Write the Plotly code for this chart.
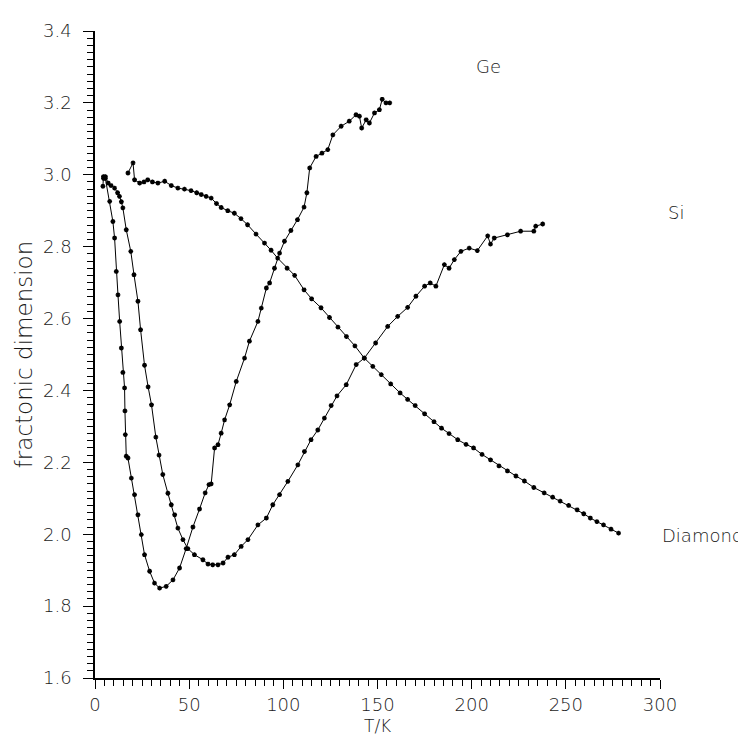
import plotly.graph_objects as go

# ---- data ----
ge_T = [4.2, 4.5, 5.5, 7.8, 9.5, 10.4, 11.3, 12.2, 13.1, 14.0, 14.8, 15.7, 15.9, 16.1, 16.6, 17.5,
        19.3, 21.0, 22.8, 24.6, 26.3, 29.0, 31.6, 34.3, 37.8, 41.4, 44.9, 48.4, 52.0, 55.5, 58.5,
        60.5, 61.7, 63.5, 65.3, 67.0, 68.8, 71.5, 75.0, 79.4, 82.0, 86.5, 88.3, 91.0, 92.7, 95.3,
        98.0, 100.6, 104.0, 107.5, 111.0, 112.5, 114.0, 117.4, 120.5, 123.6, 126.3, 130.7, 135.0,
        138.6, 140.4, 141.6, 144.0, 145.7, 148.4, 151.0, 152.5, 154.5, 156.5]
ge_v = [2.968, 2.995, 2.99, 2.926, 2.87, 2.824, 2.731, 2.666, 2.592, 2.518, 2.45, 2.407, 2.343, 2.277,
        2.217, 2.212, 2.156, 2.11, 2.054, 1.999, 1.943, 1.897, 1.864, 1.85, 1.855, 1.873, 1.906, 1.96,
        2.02, 2.07, 2.115, 2.138, 2.14, 2.24, 2.249, 2.281, 2.318, 2.36, 2.425, 2.49, 2.537, 2.592,
        2.629, 2.685, 2.699, 2.74, 2.782, 2.815, 2.845, 2.875, 2.91, 2.95, 3.019, 3.051, 3.06, 3.07,
        3.111, 3.135, 3.149, 3.167, 3.163, 3.13, 3.153, 3.144, 3.172, 3.181, 3.21, 3.20, 3.20]

si_T = [4.5, 5.5, 7.0, 8.5, 10.4, 12.0, 13.0, 14.0, 14.8, 16.6, 19.0, 20.7, 22.8, 24.2, 26.3, 28.2,
        30.0, 32.3, 34.0, 36.0, 38.7, 40.5, 42.3, 44.0, 46.7, 49.3, 52.8, 57.3, 60.0, 62.5, 65.3,
        68.0, 70.6, 74.0, 77.6, 81.2, 86.5, 91.0, 94.4, 98.0, 102.4, 107.7, 111.2, 114.7, 118.3,
        121.8, 125.4, 128.5, 133.4, 138.7, 143.0, 149.0, 155.4, 160.7, 166.0, 170.4, 175.0, 178.0,
        181.0, 185.5, 188.0, 190.8, 194.3, 198.7, 203.0, 208.5, 210.0, 212.0, 219.0, 226.0, 233.0,
        234.0, 237.7]
si_v = [2.99, 2.995, 2.977, 2.97, 2.963, 2.95, 2.94, 2.925, 2.908, 2.847, 2.787, 2.722, 2.648, 2.569,
        2.47, 2.41, 2.36, 2.27, 2.22, 2.166, 2.114, 2.082, 2.054, 2.017, 1.985, 1.96, 1.943, 1.929,
        1.917, 1.915, 1.915, 1.92, 1.936, 1.943, 1.966, 1.985, 2.026, 2.045, 2.082, 2.11, 2.147,
        2.193, 2.23, 2.263, 2.29, 2.323, 2.358, 2.385, 2.416, 2.472, 2.49, 2.532, 2.578, 2.606,
        2.631, 2.662, 2.69, 2.699, 2.69, 2.75, 2.74, 2.764, 2.787, 2.796, 2.789, 2.83, 2.807, 2.824,
        2.833, 2.843, 2.843, 2.857, 2.863]

dia_T = [17.5, 20.2, 21.0, 23.7, 26.0, 28.0, 30.5, 33.4, 37.0, 40.5, 44.0, 47.5, 51.0, 54.0, 56.4,
         59.0, 61.7, 64.5, 67.0, 70.5, 74.0, 77.5, 81.0, 85.5, 90.0, 93.5, 97.0, 102.0, 106.0, 111.0,
         115.0, 120.0, 124.5, 129.0, 133.5, 138.0, 143.0, 147.5, 152.0, 157.0, 162.0, 166.0, 170.0,
         175.0, 180.0, 184.0, 188.0, 192.6, 197.0, 201.0, 205.5, 210.0, 214.5, 219.0, 223.5, 228.0,
         233.0, 238.5, 243.0, 247.0, 251.5, 256.0, 259.5, 263.0, 266.5, 270.0, 274.0, 278.0]
dia_v = [3.005, 3.033, 2.986, 2.977, 2.98, 2.986, 2.98, 2.977, 2.982, 2.97, 2.963, 2.96, 2.956, 2.95,
         2.945, 2.94, 2.935, 2.92, 2.909, 2.9, 2.893, 2.878, 2.861, 2.835, 2.81, 2.79, 2.768, 2.74,
         2.72, 2.68, 2.655, 2.63, 2.603, 2.576, 2.55, 2.524, 2.49, 2.467, 2.444, 2.418, 2.393, 2.375,
         2.358, 2.335, 2.313, 2.295, 2.28, 2.263, 2.25, 2.24, 2.222, 2.207, 2.19, 2.176, 2.162,
         2.148, 2.13, 2.115, 2.103, 2.092, 2.08, 2.068, 2.057, 2.045, 2.035, 2.026, 2.014, 2.003]

labels = ["Ge", "Si", "Diamond"]
# label anchor positions in paper coordinates (right-hand labels sit outside the axes)
label_px = [0.696, 1.01, 1.0]
label_py = [0.945, 0.719, 0.221]
label_xanchor = ["center", "left", "left"]

FONT = "DejaVu Sans"
TXT = "#1a1a1a"

fig = go.Figure()
for T, v, name in [(ge_T, ge_v, "Ge"), (si_T, si_v, "Si"), (dia_T, dia_v, "Diamond")]:
    fig.add_trace(go.Scatter(
        x=T, y=v, mode="lines+markers", name=name,
        line=dict(color="black", width=1),
        marker=dict(symbol="asterisk-open", size=4, color="black",
                    line=dict(color="black", width=1.4)),
        showlegend=False, cliponaxis=False,
    ))

for lab, px, py, xa in zip(labels, label_px, label_py, label_xanchor):
    fig.add_annotation(x=px, y=py, xref="paper", yref="paper", text=lab, showarrow=False,
                       xanchor=xa, yanchor="middle",
                       font=dict(family=FONT, size=18, color=TXT, weight=200))

# x-axis title drawn as a text annotation so it fits in the bottom margin
fig.add_annotation(x=0.5, y=-0.0742, xref="paper", yref="paper", text="T/K", showarrow=False,
                   xanchor="center", yanchor="middle", borderpad=0,
                   font=dict(family=FONT, size=17, color=TXT, weight=200))

fig.update_layout(
    width=746, height=738,
    margin=dict(l=87, r=94, t=23, b=68),
    paper_bgcolor="white", plot_bgcolor="white",
    font=dict(family=FONT, size=18, color=TXT, weight=200),
)
fig.update_xaxes(
    range=[0, 300], dtick=50, tick0=0, showgrid=False, zeroline=False,
    showline=True, linecolor="black", linewidth=1.5,
    ticks="outside", ticklen=9, tickwidth=1.2, tickcolor="black",
    minor=dict(dtick=5, ticks="outside", ticklen=6, tickwidth=1, tickcolor="black", showgrid=False),
    ticklabelstandoff=1,
    tickfont=dict(size=18, family=FONT, color=TXT, weight=200),
)
fig.update_yaxes(
    range=[1.6, 3.4], dtick=0.2, tick0=1.6, tickformat=".1f", showgrid=False, zeroline=False,
    showline=True, linecolor="black", linewidth=1.5,
    ticks="outside", ticklen=10, tickwidth=1.2, tickcolor="black",
    minor=dict(dtick=0.02, ticks="outside", ticklen=6, tickwidth=1, tickcolor="black", showgrid=False),
    ticklabelstandoff=8,
    title=dict(text="fractonic dimension", standoff=4, font=dict(size=23, family=FONT, color=TXT, weight=200)),
    tickfont=dict(size=18, family=FONT, color=TXT, weight=200),
)

fig.write_html("out.html")
